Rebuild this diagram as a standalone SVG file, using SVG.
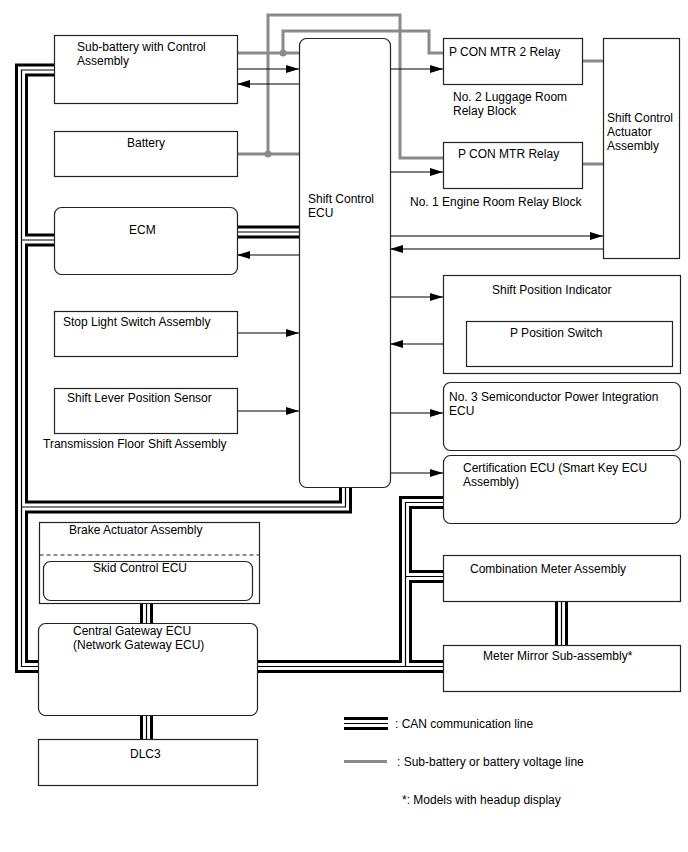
<svg xmlns="http://www.w3.org/2000/svg" xmlns:xlink="http://www.w3.org/1999/xlink" width="688" height="852" viewBox="0 0 688 852">
<style>
text{font-family:"Liberation Sans",Arial,sans-serif;font-size:12px;fill:#000}
.box{fill:#fff;stroke:#222;stroke-width:1.2}
.arr{fill:none;stroke:#000;stroke-width:1.2;marker-end:url(#ah)}
.pw{fill:none;stroke:#8a8a8a;stroke-width:3}
.c1{fill:none;stroke:#000;stroke-width:13;stroke-linejoin:miter;stroke-linecap:butt}
.c2{fill:none;stroke:#fff;stroke-width:7;stroke-linejoin:miter;stroke-linecap:butt}
.c3{fill:none;stroke:#000;stroke-width:1.2;stroke-linejoin:miter;stroke-linecap:butt}
.dot{fill:#8a8a8a}
</style>
<defs>
<marker id="ah" markerWidth="13" markerHeight="8" refX="13" refY="4" orient="auto" markerUnits="userSpaceOnUse"><path d="M0,0 L13,4 L0,8 z" fill="#000"/></marker>
<path id="can1" d="M55,70 H21.5 V666.5 H38"/>
<path id="can2" d="M21.5,240 H55"/>
<path id="can3" d="M345.5,487 V507 H21.5"/>
<path id="can4" d="M237,232 H299"/>
<path id="can5" d="M146.5,603 V623"/>
<path id="can6" d="M146.5,715 V739"/>
<path id="can7" d="M257,666.5 H443"/>
<path id="can8" d="M443,502.5 H405.5 V666.5"/>
<path id="can9" d="M405.5,576.5 H443"/>
<path id="can10" d="M561.5,601 V645"/>
<path id="canL" d="M344,723.5 H388"/>
</defs>
<g id="connectors">
<g class="c1"><use xlink:href="#can1"/><use xlink:href="#can2"/><use xlink:href="#can3"/><use xlink:href="#can4"/><use xlink:href="#can5"/><use xlink:href="#can6"/><use xlink:href="#can7"/><use xlink:href="#can8"/><use xlink:href="#can9"/><use xlink:href="#can10"/></g>
<g class="c2"><use xlink:href="#can1"/><use xlink:href="#can2"/><use xlink:href="#can3"/><use xlink:href="#can4"/><use xlink:href="#can5"/><use xlink:href="#can6"/><use xlink:href="#can7"/><use xlink:href="#can8"/><use xlink:href="#can9"/><use xlink:href="#can10"/></g>
<g class="c3"><use xlink:href="#can1"/><use xlink:href="#can2"/><use xlink:href="#can3"/><use xlink:href="#can4"/><use xlink:href="#can5"/><use xlink:href="#can6"/><use xlink:href="#can7"/><use xlink:href="#can8"/><use xlink:href="#can9"/><use xlink:href="#can10"/></g>
<path class="pw" d="M237,53 H299 M283,53 V31 H429 V53 H443 M237,154 H299 M268,154 V15 H400 V158 H443 M582,61 H603 M582,164 H603"/>
<circle class="dot" cx="283" cy="53" r="3.5"/>
<circle class="dot" cx="268" cy="154" r="3.5"/>
<path class="arr" d="M237,69 H299"/>
<path class="arr" d="M299,84 H237"/>
<path class="arr" d="M299,255 H237"/>
<path class="arr" d="M237,333 H299"/>
<path class="arr" d="M237,411 H299"/>
<path class="arr" d="M390,69 H443"/>
<path class="arr" d="M390,172 H443"/>
<path class="arr" d="M390,236 H603"/>
<path class="arr" d="M603,249 H390"/>
<path class="arr" d="M390,297 H443"/>
<path class="arr" d="M466,344 H390"/>
<path class="arr" d="M390,413 H443"/>
<path class="arr" d="M390,473 H443"/>
</g>
<g id="sub-battery"><rect class="box" x="54.5" y="35.5" width="183" height="68"/><text x="77" y="51">Sub-battery with Control</text><text x="77" y="65">Assembly</text></g>
<g id="battery"><rect class="box" x="54.5" y="131.5" width="183" height="45"/><text x="127" y="147">Battery</text></g>
<g id="ecm"><rect class="box" x="54.5" y="207.5" width="183" height="67" rx="7"/><text x="129" y="234">ECM</text></g>
<g id="stop-light"><rect class="box" x="54.5" y="311.5" width="183" height="45"/><text x="63" y="326">Stop Light Switch Assembly</text></g>
<g id="shift-lever"><rect class="box" x="54.5" y="388.5" width="183" height="45"/><text x="67" y="402">Shift Lever Position Sensor</text><text x="43" y="448">Transmission Floor Shift Assembly</text></g>
<g id="shift-ecu"><rect class="box" x="299.5" y="38.5" width="91" height="449" rx="7"/><text x="308" y="203">Shift Control</text><text x="308" y="217">ECU</text></g>
<g id="pcon2"><rect class="box" x="443.5" y="38.5" width="139" height="46"/><text x="449" y="56">P CON MTR 2 Relay</text><text x="453" y="101">No. 2 Luggage Room</text><text x="453" y="115">Relay Block</text></g>
<g id="pcon"><rect class="box" x="443.5" y="142.5" width="139" height="46"/><text x="458" y="158">P CON MTR Relay</text><text x="410" y="206">No. 1 Engine Room Relay Block</text></g>
<g id="actuator"><rect class="box" x="603.5" y="38.5" width="76" height="220"/><text x="607" y="122">Shift Control</text><text x="607" y="136">Actuator</text><text x="607" y="150">Assembly</text></g>
<g id="shift-indicator"><rect class="box" x="443.5" y="275.5" width="237" height="98"/><text x="492" y="294">Shift Position Indicator</text></g>
<g id="p-switch"><rect class="box" x="466.5" y="321.5" width="206" height="45"/><text x="510" y="337">P Position Switch</text></g>
<g id="semi"><rect class="box" x="443.5" y="382.5" width="237" height="68" rx="7"/><text x="449" y="401">No. 3 Semiconductor Power Integration</text><text x="449" y="415">ECU</text></g>
<g id="cert"><rect class="box" x="443.5" y="455.5" width="237" height="68" rx="7"/><text x="463" y="472">Certification ECU (Smart Key ECU</text><text x="463" y="486">Assembly)</text></g>
<g id="combi"><rect class="box" x="443.5" y="555.5" width="237" height="46"/><text x="470" y="573">Combination Meter Assembly</text></g>
<g id="mirror"><rect class="box" x="443.5" y="645.5" width="237" height="46"/><text x="483" y="660">Meter Mirror Sub-assembly*</text></g>
<g id="brake"><rect class="box" x="39.5" y="522.5" width="220" height="81"/><text x="69" y="534">Brake Actuator Assembly</text><line x1="39.5" y1="555" x2="259.5" y2="555" stroke="#222" stroke-width="1.2" stroke-dasharray="4,3"/></g>
<g id="skid"><rect class="box" x="43.5" y="561.5" width="209" height="39" rx="7"/><text x="93" y="572">Skid Control ECU</text></g>
<g id="gateway"><rect class="box" x="38.5" y="623.5" width="219" height="92" rx="7"/><text x="73" y="635">Central Gateway ECU</text><text x="73" y="649">(Network Gateway ECU)</text></g>
<g id="dlc3"><rect class="box" x="38.5" y="739.5" width="219" height="46"/><text x="130" y="758">DLC3</text></g>
<g id="legend">
<use xlink:href="#canL" class="c1"/><use xlink:href="#canL" class="c2"/><use xlink:href="#canL" class="c3"/>
<text x="395" y="728">: CAN communication line</text>
<line x1="344" y1="761.5" x2="387" y2="761.5" stroke="#8a8a8a" stroke-width="3"/>
<text x="397" y="766">: Sub-battery or battery voltage line</text>
<text x="402" y="804">*: Models with headup display</text>
</g>
</svg>
